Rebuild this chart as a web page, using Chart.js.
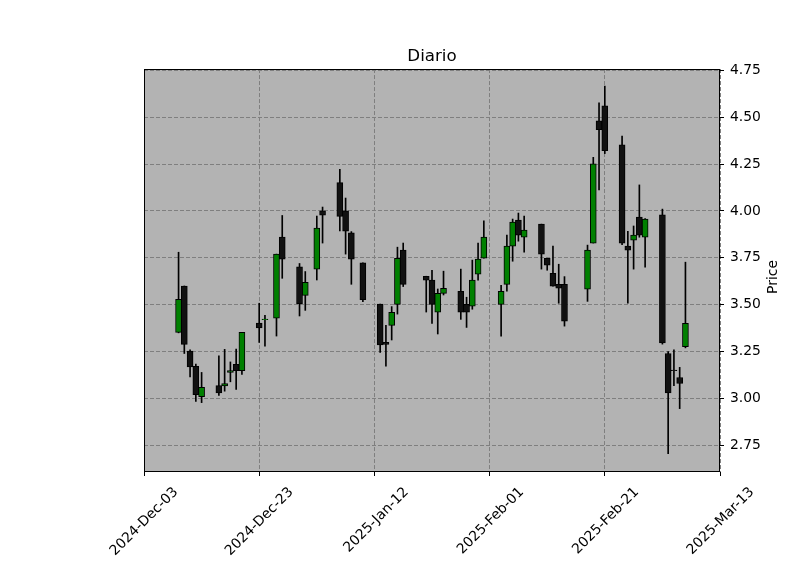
<!DOCTYPE html>
<html><head><meta charset="utf-8">
<script src="https://cdn.jsdelivr.net/npm/chart.js@4.4.1/dist/chart.umd.min.js"></script>
<style>html,body{margin:0;padding:0;background:#fff;}</style>
</head><body>
<canvas id="c" width="800" height="575"></canvas>
<script>
// ---- data ----
const startDate = '2024-12-03';
const dates = ['2024-12-09','2024-12-10','2024-12-11','2024-12-12','2024-12-13',
  '2024-12-16','2024-12-17','2024-12-18','2024-12-19','2024-12-20',
  '2024-12-23','2024-12-24','2024-12-26','2024-12-27','2024-12-30','2024-12-31',
  '2025-01-02','2025-01-03','2025-01-06','2025-01-07','2025-01-08','2025-01-10',
  '2025-01-13','2025-01-14','2025-01-15','2025-01-16','2025-01-17',
  '2025-01-21','2025-01-22','2025-01-23','2025-01-24',
  '2025-01-27','2025-01-28','2025-01-29','2025-01-30','2025-01-31',
  '2025-02-03','2025-02-04','2025-02-05','2025-02-06','2025-02-07',
  '2025-02-10','2025-02-11','2025-02-12','2025-02-13','2025-02-14',
  '2025-02-18','2025-02-19','2025-02-20','2025-02-21',
  '2025-02-24','2025-02-25','2025-02-26','2025-02-27','2025-02-28',
  '2025-03-03','2025-03-04','2025-03-05','2025-03-06','2025-03-07'];
const opens  = [3.353,3.599,3.253,3.172,3.010, 3.069,3.067,3.139,3.182,3.149,
  3.402,3.420,3.428,3.861,3.702,3.550, 3.690,4.001,4.151,4.001,3.884,3.723,
  3.504,3.299,3.390,3.502,3.791, 3.652,3.631,3.460,3.561, 3.572,3.502,3.492,3.663,3.748,
  3.502,3.609,3.813,3.952,3.861, 3.930,3.748,3.668,3.609,3.609, 3.583,3.829,4.481,4.561,
  4.353,3.813,3.845,3.968,3.861, 3.980,3.240,3.152,3.112,3.276];
const highs  = [3.780,3.600,3.260,3.183,3.139, 3.228,3.262,3.195,3.263,3.353,
  3.508,3.444,3.770,3.976,3.720,3.677, 3.973,4.021,4.222,4.069,3.890,3.723,
  3.504,3.390,3.490,3.807,3.829, 3.652,3.684,3.584,3.679, 3.690,3.540,3.738,3.829,3.948,
  3.604,3.871,3.957,3.989,3.973, 3.930,3.748,3.813,3.716,3.650, 3.818,4.286,4.577,4.666,
  4.399,3.891,3.920,4.139,3.960, 4.010,3.250,3.260,3.166,3.727];
const lows   = [3.350,3.240,3.115,2.984,2.978, 3.017,3.039,3.089,3.048,3.128,
  3.299,3.279,3.333,3.641,3.440,3.470, 3.632,3.829,3.894,3.770,3.609,3.516,
  3.246,3.172,3.312,3.450,3.597, 3.461,3.401,3.344,3.552, 3.422,3.379,3.476,3.631,3.748,
  3.333,3.572,3.732,3.839,3.780, 3.690,3.684,3.599,3.508,3.386, 3.518,3.829,4.112,4.306,
  3.820,3.509,3.690,3.860,3.700, 3.290,2.706,3.069,2.946,3.270];
const closes = [3.529,3.289,3.169,3.021,3.060, 3.030,3.080,3.149,3.149,3.353,
  3.377,3.424,3.770,3.743,3.506,3.620, 3.909,3.978,3.971,3.893,3.743,3.527,
  3.286,3.288,3.460,3.748,3.609, 3.631,3.502,3.561,3.588, 3.460,3.460,3.631,3.743,3.861,
  3.572,3.813,3.941,3.871,3.898, 3.770,3.711,3.599,3.588,3.413, 3.791,4.251,4.433,4.321,
  3.829,3.791,3.871,3.871,3.957, 3.297,3.030,3.148,3.080,3.401];
const xTickDates  = ['2024-12-03','2024-12-23','2025-01-12','2025-02-01','2025-02-21','2025-03-13'];
const xTickLabels = ['2024-Dec-03','2024-Dec-23','2025-Jan-12','2025-Feb-01','2025-Feb-21','2025-Mar-13'];
const yTicks = [2.75, 3.00, 3.25, 3.50, 3.75, 4.00, 4.25, 4.50, 4.75];
const titleText = 'Diario';
const yLabelText = 'Price';

// ---- helpers ----
function dayOffset(s){
  const [y,m,d] = s.split('-').map(Number);
  const [y0,m0,d0] = startDate.split('-').map(Number);
  return Math.round((Date.UTC(y,m-1,d) - Date.UTC(y0,m0-1,d0)) / 86400000);
}
const UP = '#008000', DOWN = '#111111';
const FONT = 'DejaVu Sans';
const days = dates.map(dayOffset);
const bodyData = days.map((x,i)=>({x:x, y:[opens[i], closes[i]]}));
const wickData = days.map((x,i)=>({x:x, y:[lows[i], highs[i]]}));
const bodyColors = opens.map((o,i)=> closes[i] >= o ? UP : DOWN);

const framePlugin = {
  id: 'frame',
  beforeDraw(chart){
    const {ctx, chartArea:a} = chart;
    ctx.save();
    ctx.fillStyle = '#b3b3b3';
    ctx.fillRect(a.left, a.top, a.right - a.left, a.bottom - a.top);
    ctx.restore();
  },
  afterDraw(chart){
    const {ctx, chartArea:a} = chart;
    ctx.save();
    ctx.strokeStyle = '#000';
    ctx.lineWidth = 1;
    const l = Math.round(a.left) + 0.5, t = Math.round(a.top) + 0.5;
    const r = Math.round(a.right) - 0.5, b = Math.round(a.bottom) - 0.5;
    ctx.strokeRect(l, t, r - l, b - t);
    ctx.fillStyle = '#000';
    ctx.font = '13.9px "' + FONT + '"';
    ctx.textAlign = 'center';
    ctx.textBaseline = 'middle';
    ctx.translate(773, 277);
    ctx.rotate(-Math.PI/2);
    ctx.fillText(yLabelText, 0, 0);
    ctx.restore();
  }
};

new Chart(document.getElementById('c'), {
  type: 'bar',
  data: { datasets: [
    { label:'wick', data: wickData, backgroundColor:'#000', borderWidth:0,
      barThickness:1, grouped:false, order:2 },
    { label:'body', data: bodyData, backgroundColor: bodyColors, borderColor:'#000',
      borderWidth:1, borderSkipped:false, barThickness:6, grouped:false, order:1 }
  ]},
  options: {
    responsive:false, animation:false,
    layout:{ padding:{ left:144, right:0, top:0, bottom:0 } },
    plugins:{
      legend:{ display:false }, tooltip:{ enabled:false },
      title:{ display:true, text:titleText, fullSize:false, color:'#000',
        font:{ family:FONT, size:16.7, weight:'normal' }, padding:{ top:46.2, bottom:2.8 } }
    },
    scales:{
      x:{ type:'linear', min:0, max:100, offset:false,
        afterBuildTicks: s => { s.ticks = xTickDates.map(d => ({ value: dayOffset(d) })); },
        afterFit: s => { s.height = 103; },
        ticks:{ autoSkip:false, minRotation:45, maxRotation:45, labelOffset:32, padding:8,
          color:'#000', font:{ family:FONT, size:13.9 },
          callback:(v,i) => xTickLabels[i] },
        grid:{ color:'#7f7f7f', lineWidth:1, drawTicks:true, tickLength:4, tickColor:'#000', tickWidth:1, offset:false },
        border:{ display:false, dash:[4,2] }
      },
      y:{ type:'linear', position:'right', min:2.608, max:4.757,
        afterBuildTicks: s => { s.ticks = yTicks.map(v => ({ value:v })); },
        afterFit: s => { s.width = 80; },
        ticks:{ padding:6, color:'#000', font:{ family:FONT, size:13.9 },
          callback: v => Number(v).toFixed(2) },
        grid:{ color:'#7f7f7f', lineWidth:1, drawTicks:true, tickLength:4, tickColor:'#000', tickWidth:1 },
        border:{ display:false, dash:[4,2] }
      }
    }
  },
  plugins:[framePlugin]
});
</script>
</body></html>
